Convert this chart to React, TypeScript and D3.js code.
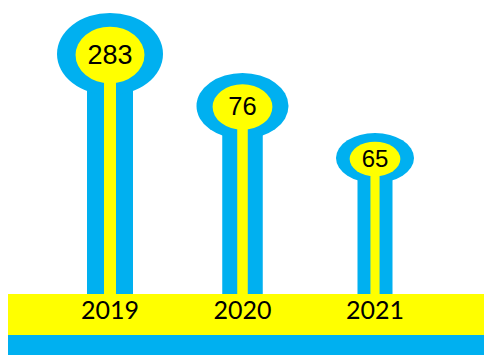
import React from "react";
import * as d3 from "d3";

const years = ["2019", "2020", "2021"];
const values = [283, 76, 65];

const BLUE = "#00B0F0";
const YELLOW = "#FFFF00";

export default function App() {
  const W = 484, H = 355;
  const bandTop = 294, bandMid = 335;
  const idx = d3.range(values.length);
  const n = values.length - 1;
  // decorative layout: ranked positions
  const x = d3.scaleLinear().domain([0, n]).range([110, 375]);
  const cy = d3.scaleLinear().domain([0, n]).range([54, 158]);
  const rx = d3.scaleLinear().domain([0, n]).range([53, 39]);
  const ry = d3.scaleLinear().domain([0, n]).range([41, 25]);
  const sw = d3.scaleLinear().domain([0, n]).range([46, 35]);
  const fs = d3.scaleLinear().domain([0, n]).range([27, 24]);

  return (
    <svg width={W} height={H} style={{ position: "absolute", left: 0, top: 0, background: "#fff" }}>
      {idx.map((i) => {
        const cx = x(i), c = cy(i), w = sw(i);
        return (
          <g key={years[i]}>
            <rect x={cx - w / 2} y={c} width={w} height={bandTop - c} fill={BLUE} />
            <ellipse cx={cx} cy={c} rx={rx(i)} ry={ry(i)} fill={BLUE} />
            <rect x={cx - w * 0.13} y={c} width={w * 0.26} height={bandTop - c} fill={YELLOW} />
            <ellipse cx={cx} cy={c + 1} rx={rx(i) * 0.65} ry={ry(i) * 0.69} fill={YELLOW} />
            <text x={cx} y={c} dy="0.36em" textAnchor="middle" fontFamily="Liberation Sans, Arial, sans-serif" fontSize={fs(i)} fill="#000">
              {values[i]}
            </text>
          </g>
        );
      })}
      <rect x={8} y={bandTop} width={W - 8} height={bandMid - bandTop} fill={YELLOW} />
      <rect x={8} y={bandMid} width={W - 8} height={H - bandMid} fill={BLUE} />
      {idx.map((i) => (
        <text key={"l" + i} x={x(i)} y={319} textAnchor="middle" fontFamily="Lato, 'Open Sans', sans-serif" fontSize={25} fill="#000">
          {years[i]}
        </text>
      ))}
    </svg>
  );
}
